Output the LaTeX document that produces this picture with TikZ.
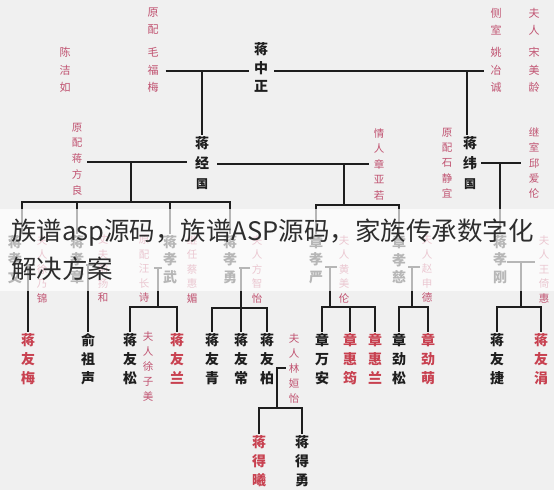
\documentclass[tikz,border=0pt]{standalone}
\usepackage{fontspec}
\newfontfamily\cjk{Noto Sans CJK SC}
\definecolor{bg}{RGB}{240,240,240}
\definecolor{spouse}{RGB}{192,82,112}
\definecolor{rname}{RGB}{200,65,80}
\definecolor{ink}{RGB}{30,30,30}
\definecolor{bantext}{RGB}{45,45,45}
\begin{document}
\begin{tikzpicture}[x=1pt,y=-1pt,
  bn/.style={font=\cjk\bfseries\fontsize{14}{#1}\selectfont, text=ink, align=center, inner sep=1pt},
  bn/.default=19,
  rn/.style={bn=#1, text=rname},
  rn/.default=19,
  sp/.style={font=\cjk\fontsize{10.5}{#1}\selectfont, text=spouse, align=center, inner sep=1pt},
  sp/.default=14.5,
  tsp/.style={sp=#1, font=\cjk\fontsize{11}{#1}\selectfont},
  tsp/.default=17.5,
  link/.style={draw=ink, line width=1.3pt},
  banner/.style={font=\cjk\fontsize{25.5}{30}\selectfont, text=bantext, inner sep=0pt, anchor=west}]
\fill[bg] (0,0) rectangle (554,490);
\useasboundingbox (0,0) rectangle (554,490);

% generation 1
\node[bn=18.5] (zz) at (261,67.5) {蒋\\中\\正};
\node[tsp=17] (yp1) at (153,21.5) {原\\配};
\node[tsp] (mfm) at (153,70) {毛\\福\\梅};
\node[tsp] (cjr) at (65,70) {陈\\洁\\如};
\node[tsp=17] (cs) at (496,21.5) {侧\\室};
\node[tsp] (yyc) at (496,70) {姚\\冶\\诚};
\node[tsp=17] (fr) at (534,21.5) {夫\\人};
\node[tsp] (sml) at (534,70) {宋\\美\\龄};

% generation 2
\node[bn=20] (jgg) at (202,163) {蒋\\经\\{\fontsize{12}{20}\selectfont 国}};
\node[bn=20] (wgg) at (470,163) {蒋\\纬\\{\fontsize{12}{20}\selectfont 国}};
\node[sp=15.75] (fl) at (77,159) {原\\配\\蒋\\方\\良};
\node[sp=15.5] (zyr) at (379,164) {情\\人\\章\\亚\\若};
\node[sp=15.25] (sjy) at (447,163) {原\\配\\石\\静\\宜};
\node[sp=15.25] (qal) at (534,163) {继\\室\\邱\\爱\\伦};

% generation 3
\node[bn=17.5] (xw) at (15,259.5) {蒋\\孝\\文};
\node[bn=17.5] (xz) at (77,259.5) {蒋\\孝\\章};
\node[bn=17.5] (xwu) at (170,259.5) {蒋\\孝\\武};
\node[bn=17.5] (xy) at (230,259.5) {蒋\\孝\\勇};
\node[bn=17.5] (xyan) at (316,259.5) {章\\孝\\严};
\node[bn=17.5] (xc) at (399,259.5) {章\\孝\\慈};
\node[bn=17.5] (xg) at (500,259.5) {蒋\\孝\\刚};
\node[sp] (xnj) at (42,269) {夫\\人\\徐\\乃\\锦};
\node[sp] (yyh) at (103,269) {丈\\夫\\俞\\扬\\和};
\node[sp] (wcs) at (144,269) {原\\配\\汪\\长\\诗};
\node[sp] (chm) at (192,269) {继\\任\\蔡\\惠\\媚};
\node[sp] (fzy) at (257,269) {夫\\人\\方\\智\\怡};
\node[sp] (hml) at (344,269) {夫\\人\\黄\\美\\伦};
\node[sp] (zsd) at (427,269) {夫\\人\\赵\\申\\德};
\node[sp] (wyh) at (544,269) {夫\\人\\王\\倚\\惠};

% generation 4
\node[rn] (yme) at (28,359) {蒋\\友\\梅};
\node[bn] (yzs) at (88,359) {俞\\祖\\声};
\node[bn] (yso) at (130,359) {蒋\\友\\松};
\node[sp=15] (xzm) at (148,366) {夫\\人\\徐\\子\\美};
\node[rn] (yl) at (177,359) {蒋\\友\\兰};
\node[bn] (yq) at (212,359) {蒋\\友\\青};
\node[bn] (ych) at (241,359) {蒋\\友\\常};
\node[bn] (yb) at (267,359) {蒋\\友\\柏};
\node[sp=15] (lhy) at (294,368) {夫\\人\\林\\姮\\怡};
\node[bn] (wa) at (322,359) {章\\万\\安};
\node[rn] (hy) at (350,359) {章\\惠\\筠};
\node[rn] (hl) at (375,359) {章\\惠\\兰};
\node[bn] (js) at (399,359) {章\\劲\\松};
\node[rn] (jm) at (428,359) {章\\劲\\萌};
\node[bn] (yj) at (497,359) {蒋\\友\\捷};
\node[rn] (yju) at (541,359) {蒋\\友\\涓};

% generation 5
\node[rn] (dx) at (259,461) {蒋\\得\\曦};
\node[bn] (dy) at (302,461) {蒋\\得\\勇};

% connectors generation 1
\coordinate (j0) at (202,71);
\coordinate (j1) at (467,71);
\draw[link] ([xshift=6pt]mfm.east |- j0) -- ([xshift=-4pt]zz.west |- j0);
\draw[link] ([xshift=5pt]zz.east |- j1) -- ([xshift=-5pt]yyc.west |- j1);
\draw[link] (j0) -- (jgg.north);
\draw[link] (j1) -- (j1 |- wgg.north);

% connectors generation 2
\coordinate (j2) at (131,162);
\coordinate (j3) at (344,164);
\coordinate (j4) at (500,163);
\draw[link] ([xshift=4pt]fl.east |- j2) -- ([xshift=-7pt]jgg.west |- j2);
\draw[link] ([xshift=7pt]jgg.east |- j3) -- ([xshift=-4pt]zyr.west |- j3);
\draw[link] ([xshift=3pt]wgg.east |- j4) -- ([xshift=-7pt]qal.west |- j4);

\coordinate (b1) at (131,202);
\coordinate (b1L) at (22,202);
\draw[link] (j2) -- (b1);
\draw[link] (b1L |- xw.north) -- (b1L) -- (xy.north |- b1) -- (xy.north);
\draw[link] (xz.north |- b1) -- (xz.north);
\draw[link] (xwu.north |- b1) -- (xwu.north);

\coordinate (b2) at (344,205);
\draw[link] (j3) -- (b2);
\draw[link] (xyan.north) -- (xyan.north |- b2) -- (xc.north |- b2) -- (xc.north);
\draw[link] (j4) -- (j4 |- xg.north);

% connectors generation 3
\coordinate (c1) at (28,265);
\draw[link] ([xshift=1pt]xw.east |- c1) -- ([xshift=-1pt]xnj.west |- c1);
\draw[link] (c1) -- (yme.north);
\coordinate (c2) at (88,265);
\draw[link] ([xshift=1pt]xz.east |- c2) -- ([xshift=-1pt]yyh.west |- c2);
\draw[link] (c2) -- (yzs.north);

\coordinate (c3) at (158,268);
\coordinate (b3) at (158,307);
\draw[link] ([xshift=4pt]wcs.east |- c3) -- (xwu.west |- c3);
\draw[link] (c3) -- (b3);
\draw[link] (yso.north) -- (yso.north |- b3) -- (yl.north |- b3) -- (yl.north);

\coordinate (c4) at (241,268);
\coordinate (b4) at (241,308);
\draw[link] ([xshift=1pt]xy.east |- c4) -- ([xshift=-1pt]fzy.west |- c4);
\draw[link] (c4) -- (ych.north);
\draw[link] (yq.north) -- (yq.north |- b4) -- (yb.north |- b4) -- (yb.north);

\coordinate (c5) at (330,267);
\coordinate (b5) at (330,307);
\draw[link] ([xshift=1pt]xyan.east |- c5) -- ([xshift=-1pt]hml.west |- c5);
\draw[link] (c5) -- (b5);
\draw[link] (wa.north) -- (wa.north |- b5) -- (hl.north |- b5) -- (hl.north);
\draw[link] (hy.north |- b5) -- (hy.north);

\coordinate (c6) at (412,267);
\coordinate (b6) at (412,307);
\draw[link] ([xshift=1pt]xc.east |- c6) -- ([xshift=-1pt]zsd.west |- c6);
\draw[link] (c6) -- (b6);
\draw[link] (js.north) -- (js.north |- b6) -- (jm.north |- b6) -- (jm.north);

\coordinate (c7) at (521,262);
\coordinate (b7) at (521,307);
\draw[link] ([xshift=-1pt]xg.east |- c7) -- ([xshift=-3pt]wyh.west |- c7);
\draw[link] (c7) -- (b7);
\draw[link] (yj.north) -- (yj.north |- b7) -- (yju.north |- b7) -- (yju.north);

% connectors generation 4
\coordinate (c8) at (277,368);
\coordinate (b8) at (277,408);
\draw[link] ([xshift=1pt]yb.east |- c8) -- ([xshift=-2pt]lhy.west |- c8);
\draw[link] (c8) -- (b8);
\draw[link] (dx.north) -- (dx.north |- b8) -- (dy.north |- b8) -- (dy.north);

% watermark banner
\fill[white, opacity=0.68] (0,209) rectangle (554,291);
\node[banner] (ban1) at (11,233) {族谱asp源码，族谱ASP源码，家族传承数字化};
\node[banner] (ban2) at (11,269) {解决方案};
\end{tikzpicture}
\end{document}
